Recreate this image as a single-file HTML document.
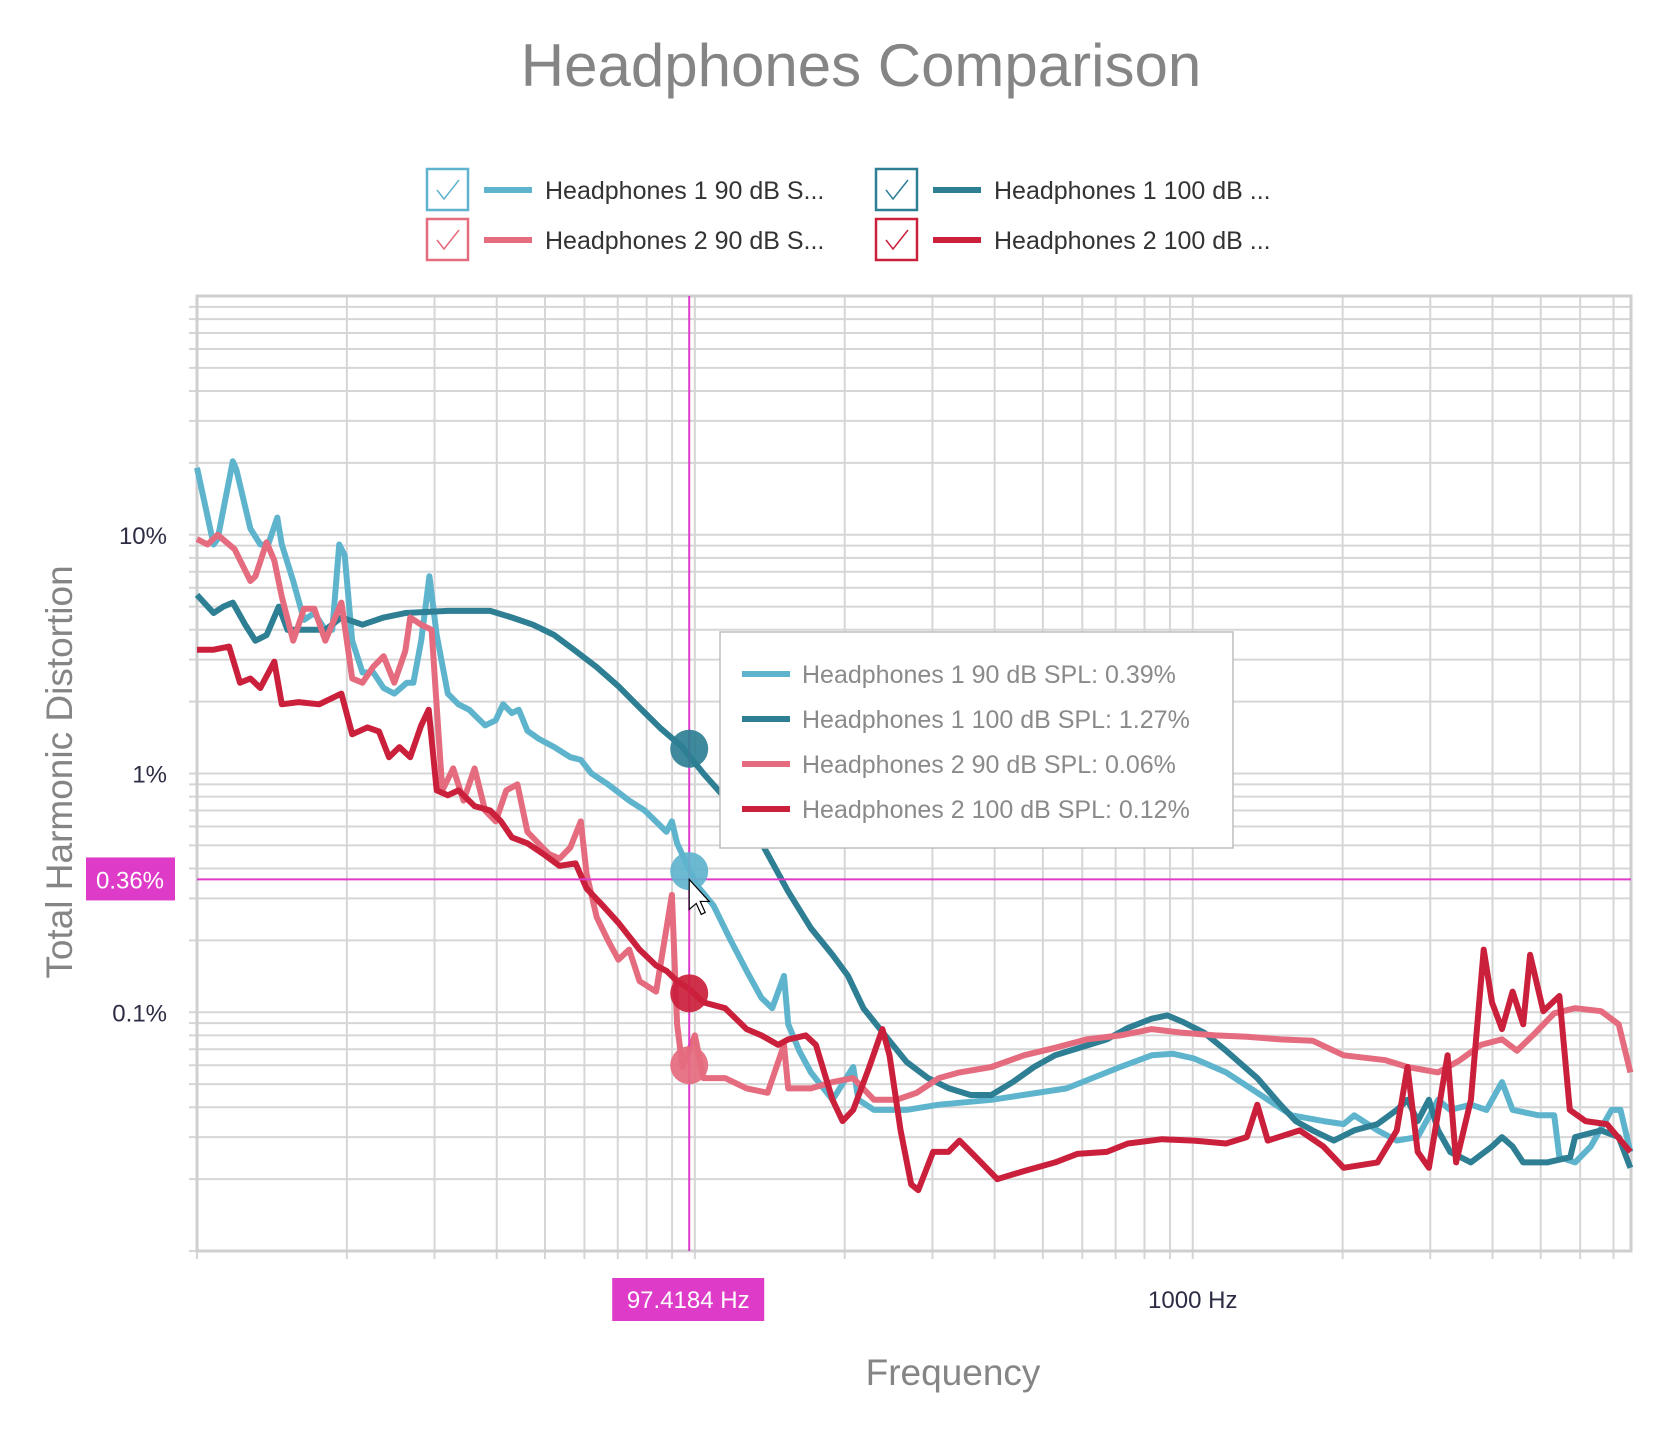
<!DOCTYPE html>
<html><head><meta charset="utf-8"><style>
body{margin:0;background:#fff;}
svg{display:block;font-family:"Liberation Sans",sans-serif;}
</style></head><body>
<svg id="chart" width="1672" height="1432" viewBox="0 0 1672 1432" xmlns="http://www.w3.org/2000/svg">
<text x="861" y="86" text-anchor="middle" font-size="60" fill="#858585">Headphones Comparison</text>
<g id="legend"></g>
<g id="grid"></g>
<g id="series"></g>
<g id="cross"></g>
<text transform="translate(72,772) rotate(-90)" text-anchor="middle" font-size="37" fill="#858585">Total Harmonic Distortion</text>
<text x="953" y="1385" text-anchor="middle" font-size="37" fill="#858585">Frequency</text>
</svg>
<script>
const NS='http://www.w3.org/2000/svg';
const seriesNames=['Headphones 1 90 dB SPL','Headphones 1 100 dB SPL','Headphones 2 90 dB SPL','Headphones 2 100 dB SPL'];
const seriesColors=['#5fb4cd','#2e7f93','#e56b7e','#cb203c'];
const yTicks=[0.1,1,10];
const yTickLabels=['0.1%','1%','10%'];
const xTicks=[1000];
const xTickLabels=['1000 Hz'];
const crossFreq=97.4184;
const crossValue=0.36;
const hoverValues=[0.39,1.27,0.06,0.12];
const f1=[10,10.8,11.0,11.8,12.0,12.8,13.4,13.9,14.5,14.8,15.6,16.4,17.2,18.1,18.7,19.3,19.8,20.5,21.5,22.6,23.7,24.9,26.4,27.2,28.2,29.3,30.3,31.9,33.5,35.2,37.9,39.8,41.2,42.9,44.3,46.1,48.5,52.2,56.2,59.0,62.0,66.9,73.8,79.3,87.7,89.9,92.1,97.4,101,109,118,127,136,143,151,154,162,171,189,208,213,229,266,309,394,558,715,827,913,1006,1167,1348,1580,1830,2010,2110,2350,2570,2830,3110,3290,3620,3890,4180,4390,4950,5320,5450,5860,6300,6940,7230,7570];
const v1=[19.1,9.1,9.6,20.3,18.7,10.6,9.1,9.1,11.8,9.1,6.4,4.4,4.7,4.0,4.0,9.1,8.2,3.6,2.65,2.65,2.28,2.16,2.4,2.4,3.6,6.7,3.8,2.16,1.95,1.85,1.59,1.67,1.95,1.79,1.85,1.51,1.40,1.29,1.17,1.14,1.0,0.90,0.77,0.70,0.57,0.63,0.51,0.396,0.34,0.28,0.20,0.149,0.115,0.104,0.142,0.089,0.069,0.056,0.043,0.059,0.043,0.039,0.039,0.041,0.043,0.048,0.059,0.066,0.067,0.064,0.056,0.046,0.037,0.035,0.034,0.037,0.032,0.029,0.030,0.043,0.039,0.041,0.039,0.051,0.039,0.037,0.037,0.0247,0.0235,0.0274,0.039,0.039,0.026];
const f2=[10,10.8,11.3,11.8,12.5,13.1,13.8,14.6,15.2,18.1,19.5,21.5,23.7,26.2,31.9,38.8,42.9,47.3,52.2,57.6,63.5,70.2,77.4,85.5,94.4,104,115,127,140,154,171,189,203,218,241,266,294,324,358,394,435,480,529,672,741,827,889,956,1055,1167,1348,1500,1610,1740,1920,2110,2350,2570,2700,2830,2980,3110,3290,3620,3990,4180,4390,4610,5150,5730,5860,6610,7170,7570];
const v2=[5.6,4.7,5.0,5.2,4.2,3.6,3.8,5.0,4.0,4.0,4.5,4.2,4.5,4.7,4.8,4.8,4.5,4.2,3.8,3.26,2.79,2.32,1.89,1.54,1.29,1.0,0.79,0.66,0.46,0.32,0.225,0.174,0.142,0.104,0.080,0.062,0.053,0.048,0.045,0.045,0.051,0.059,0.066,0.077,0.086,0.094,0.097,0.091,0.082,0.069,0.053,0.041,0.035,0.032,0.029,0.032,0.034,0.039,0.043,0.035,0.043,0.032,0.026,0.0235,0.0274,0.030,0.0274,0.0235,0.0235,0.0247,0.030,0.032,0.030,0.0223];
const f3=[10,10.5,11.0,11.9,12.8,13.1,13.8,14.3,14.8,15.6,16.4,17.2,18.1,19.5,20.5,21.5,22.6,23.7,24.9,26.2,26.8,28.2,29.6,31.1,32.7,34.3,36.1,37.9,39.8,41.8,44.0,46.1,48.5,50.9,53.5,56.2,59.0,60.6,63.5,66.9,70.2,73.8,77.4,83.6,87.7,89.9,92.1,94.4,100,104,115,127,140,151,154,171,189,208,229,254,279,309,340,394,458,529,612,715,827,956,1110,1284,1500,1740,2010,2440,2700,3110,3440,3790,4180,4480,4820,5320,5860,6610,7170,7570];
const v3=[9.6,9.1,10.0,8.7,6.4,6.7,9.3,7.8,5.5,3.6,4.9,4.9,3.6,5.2,2.5,2.4,2.8,3.1,2.4,3.26,4.5,4.2,4.0,0.85,1.05,0.77,1.05,0.70,0.63,0.85,0.90,0.57,0.51,0.46,0.44,0.49,0.63,0.38,0.25,0.20,0.166,0.183,0.135,0.122,0.225,0.31,0.089,0.059,0.080,0.053,0.053,0.048,0.046,0.073,0.048,0.048,0.051,0.053,0.043,0.043,0.046,0.053,0.056,0.059,0.066,0.071,0.077,0.080,0.085,0.082,0.080,0.079,0.077,0.076,0.066,0.063,0.059,0.056,0.063,0.073,0.077,0.069,0.080,0.099,0.104,0.101,0.089,0.056];
const f4=[10,10.8,11.6,12.2,12.8,13.4,14.3,14.8,16.0,17.6,19.5,20.5,22.0,23.2,24.3,25.5,26.8,28.2,29.2,30.3,31.9,33.5,36.1,38.8,40.8,42.9,46.1,49.6,53.5,57.6,60.6,65.3,70.2,77.4,83.6,87.7,92.1,97.4,104,115,127,136,147,154,167,175,189,198,208,224,238,246,259,272,281,301,323,340,367,405,458,529,586,672,741,867,1006,1167,1284,1348,1415,1640,1830,2010,2350,2570,2700,2830,2980,3250,3380,3620,3840,3990,4180,4390,4610,4760,5060,5450,5720,6150,6790,7570];
const v4=[3.3,3.3,3.4,2.4,2.5,2.28,2.94,1.95,1.99,1.95,2.16,1.46,1.56,1.50,1.17,1.29,1.17,1.59,1.85,0.85,0.81,0.85,0.73,0.70,0.63,0.54,0.51,0.46,0.41,0.42,0.33,0.28,0.237,0.183,0.157,0.149,0.135,0.125,0.110,0.104,0.085,0.080,0.073,0.077,0.080,0.073,0.043,0.035,0.039,0.059,0.085,0.066,0.032,0.019,0.018,0.026,0.026,0.029,0.0247,0.020,0.0216,0.0235,0.0255,0.026,0.0282,0.0294,0.029,0.0282,0.030,0.041,0.029,0.032,0.0274,0.0223,0.0235,0.032,0.059,0.026,0.0223,0.066,0.0235,0.043,0.183,0.110,0.085,0.122,0.089,0.174,0.101,0.117,0.039,0.035,0.034,0.026];

const L=197,R=1631,T=296,B=1251,XMIN=10,XMAX=7590,YMIN=0.01,YMAX=100;
function xs(f){return L+(Math.log10(f)-Math.log10(XMIN))/(Math.log10(XMAX)-Math.log10(XMIN))*(R-L);}
function ys(v){return B-(Math.log10(v)-Math.log10(YMIN))/(Math.log10(YMAX)-Math.log10(YMIN))*(B-T);}
function mk(tag,attrs,parent){const e=document.createElementNS(NS,tag);for(const k in attrs)e.setAttribute(k,attrs[k]);parent.appendChild(e);return e;}

const grid=document.getElementById('grid');
for(let d=-2;d<2;d++){for(let m=1;m<=9;m++){const v=m*Math.pow(10,d);const y=ys(v);
 const ln=mk('line',{x1:L-8,x2:R,y1:y,y2:y,stroke:'#d6d6d6','stroke-width':2},grid);
 
 }}
for(let d=1;d<4;d++){for(let m=1;m<=9;m++){const f=m*Math.pow(10,d);if(f>XMAX)break;const x=xs(f);
 const ln=mk('line',{x1:x,x2:x,y1:T,y2:B+8,stroke:'#d6d6d6','stroke-width':2},grid);
 
 }}
const frame=mk('rect',{x:L,y:T,width:R-L,height:B-T,fill:'none',stroke:'#cfcfcf','stroke-width':3},grid);


yTicks.forEach((v,i)=>{const t=mk('text',{x:167,y:ys(v)+9,'text-anchor':'end','font-size':24,fill:'#2c2c44'},grid);t.textContent=yTickLabels[i];
 
 });
xTicks.forEach((f,i)=>{const t=mk('text',{x:xs(f),y:1308,'text-anchor':'middle','font-size':24,fill:'#2c2c44'},grid);t.textContent=xTickLabels[i];
 
 });

const ser=document.getElementById('series');
const allF=[f1,f2,f3,f4],allV=[v1,v2,v3,v4];
allF.forEach((fa,i)=>{const pts=fa.map((f,j)=>xs(f).toFixed(1)+','+ys(allV[i][j]).toFixed(1)).join(' ');
 const p=mk('polyline',{points:pts,fill:'none',stroke:seriesColors[i],'stroke-width':6,'stroke-linejoin':'round'},ser);
 
 });

const cr=document.getElementById('cross');
const cx=xs(crossFreq),cy=ys(crossValue);
let e=mk('line',{x1:cx,x2:cx,y1:T,y2:B,stroke:'#dd3bc8','stroke-width':2},cr);


e=mk('line',{x1:L,x2:R,y1:cy,y2:cy,stroke:'#dd3bc8','stroke-width':2},cr);


hoverValues.forEach((v,i)=>{const c=mk('circle',{cx:cx,cy:ys(v),r:19,fill:seriesColors[i],'fill-opacity':0.92},cr);
 
 });
e=mk('rect',{x:86,y:cy-22,width:89,height:43,fill:'#dd3bc8'},cr);


e=mk('text',{x:130,y:cy+9,'text-anchor':'middle','font-size':24,fill:'#fff'},cr);e.textContent=crossValue+'%';


e=mk('rect',{x:cx-77,y:1278,width:152,height:43,fill:'#dd3bc8'},cr);


e=mk('text',{x:cx-1,y:1308,'text-anchor':'middle','font-size':24,fill:'#fff'},cr);e.textContent=crossFreq+' Hz';


e=mk('polygon',{points:`${cx},${cy} ${cx},${cy+30} ${cx+7},${cy+24} ${cx+12},${cy+35} ${cx+16},${cy+33} ${cx+11},${cy+22} ${cx+20},${cy+22}`,fill:'#fff',stroke:'#000','stroke-width':1.2},cr);


const tt=mk('g',{},cr);


mk('rect',{x:720,y:632,width:513,height:216,fill:'#fff',stroke:'#bdbdbd','stroke-width':1.5},tt);
const tv=['0.39%','1.27%','0.06%','0.12%'];
seriesNames.forEach((n,i)=>{const y=675+i*45;
 mk('line',{x1:742,x2:790,y1:y-1,y2:y-1,stroke:seriesColors[i],'stroke-width':6},tt);
 const t=mk('text',{x:802,y:y+8,'font-size':25,fill:'#8a8a8a'},tt);t.textContent=n+': '+tv[i];
 
 });

const lg=document.getElementById('legend');
const legendLabels=['Headphones 1 90 dB S...','Headphones 1 100 dB ...','Headphones 2 90 dB S...','Headphones 2 100 dB ...'];
legendLabels.forEach((n,i)=>{const col=i%2,row=Math.floor(i/2);
 const bx=col?876:427, by=row?219:169;
 const g=mk('g',{},lg);
 
 
 mk('rect',{x:bx,y:by,width:41,height:41,fill:'#fff',stroke:seriesColors[i],'stroke-width':2.5},g);
 mk('polyline',{points:`${bx+10},${by+21} ${bx+17},${by+30} ${bx+32},${by+11}`,fill:'none',stroke:seriesColors[i],'stroke-width':1.5},g);
 mk('line',{x1:bx+57,x2:bx+105,y1:by+21,y2:by+21,stroke:seriesColors[i],'stroke-width':6},g);
 const t=mk('text',{x:bx+118,y:by+30,'font-size':25,fill:'#333'},g);t.textContent=n;});
</script>
</body></html>
